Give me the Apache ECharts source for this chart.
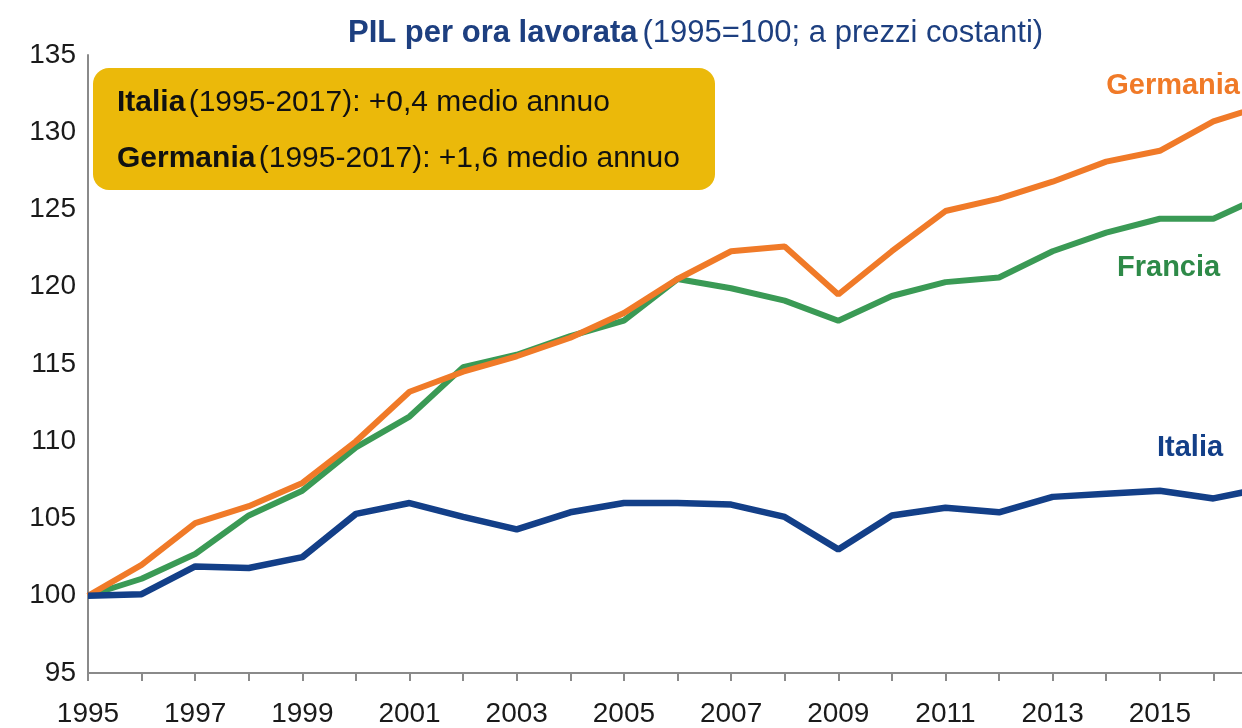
<!DOCTYPE html>
<html>
<head>
<meta charset="utf-8">
<script src="https://cdn.jsdelivr.net/npm/echarts@6/dist/echarts.min.js"></script>
<style>
  html, body { margin: 0; padding: 0; background: #fff; }
  #chart { width: 1242px; height: 728px; }
</style>
</head>
<body>
<div id="chart"></div>
<script>
// anni (l'asse arriva al 2017, il grafico originale è tagliato a destra)
var years = ['1995', '1996', '1997', '1998', '1999', '2000', '2001', '2002', '2003', '2004', '2005',
  '2006', '2007', '2008', '2009', '2010', '2011', '2012', '2013', '2014', '2015', '2016', '2017']

// PIL per ora lavorata, 1995=100
var germania = [100, 102.0, 104.7, 105.8, 107.3, 110.0, 113.2, 114.5, 115.5, 116.7, 118.3,
  120.5, 122.3, 122.6, 119.5, 122.3, 124.9, 125.7, 126.8, 128.1, 128.8, 130.7, 131.8]
var francia = [100, 101.1, 102.7, 105.2, 106.8, 109.6, 111.6, 114.8, 115.6, 116.8, 117.8,
  120.5, 119.9, 119.1, 117.8, 119.4, 120.3, 120.6, 122.3, 123.5, 124.4, 124.4, 126.0]
var italia = [100, 100.1, 101.9, 101.8, 102.5, 105.3, 106.0, 105.1, 104.3, 105.4, 106.0,
  106.0, 105.9, 105.1, 103.0, 105.2, 105.7, 105.4, 106.4, 106.6, 106.8, 106.3, 107.0]

var yTicks = { min: 95, max: 135, step: 5 }

var FONT = '"Liberation Sans Narrow", "Liberation Sans", Arial, sans-serif'
var C_GER = '#f07a28'
var C_FRA = '#3a9a55'
var C_ITA = '#133f88'

var myChart = echarts.init(document.getElementById('chart'))

var option = {
  backgroundColor: '#fff',
  animation: false,
  title: {
    left: 343,
    top: 13,
    text: '{b|PIL per ora lavorata} {n|(1995=100; a prezzi costanti)}',
    textStyle: {
      fontWeight: 'normal',
      rich: {
        b: { fontFamily: FONT, fontSize: 31, fontWeight: 'bold', color: '#1d3f80' },
        n: { fontFamily: FONT, fontSize: 31, fontWeight: 'normal', color: '#1d3f80' }
      }
    }
  },
  grid: {
    left: 88,
    top: 55,
    width: 1179,
    height: 618,
    outerBoundsMode: 'none',
    containLabel: false
  },
  xAxis: {
    type: 'category',
    data: years,
    boundaryGap: false,
    axisLine: { lineStyle: { color: '#8a8a8a', width: 2 } },
    axisTick: { show: true, interval: 0, length: 8, lineStyle: { color: '#8a8a8a', width: 2 } },
    axisLabel: {
      interval: 1,
      showMaxLabel: false,
      margin: 27,
      fontFamily: FONT,
      fontSize: 28,
      color: '#1a1a1a'
    },
    splitLine: { show: false }
  },
  yAxis: {
    type: 'value',
    min: yTicks.min,
    max: yTicks.max,
    interval: yTicks.step,
    axisLine: { show: true, lineStyle: { color: '#8a8a8a', width: 2 } },
    axisTick: { show: false },
    axisLabel: {
      margin: 12,
      fontFamily: FONT,
      fontSize: 28,
      color: '#1a1a1a'
    },
    splitLine: { show: false }
  },
  series: [
    {
      name: 'Francia',
      type: 'line',
      data: francia,
      symbol: 'none',
      lineStyle: { color: C_FRA, width: 6 },
      z: 2
    },
    {
      name: 'Germania',
      type: 'line',
      data: germania,
      symbol: 'none',
      lineStyle: { color: C_GER, width: 6 },
      z: 3
    },
    {
      name: 'Italia',
      type: 'line',
      data: italia,
      symbol: 'none',
      lineStyle: { color: C_ITA, width: 6.5 },
      z: 4
    }
  ],
  graphic: [
    {
      type: 'rect',
      left: 93,
      top: 68,
      shape: { width: 622, height: 122, r: 16 },
      style: { fill: '#ebb90a' },
      z: 10
    },
    {
      type: 'text',
      left: 117,
      top: 88,
      style: {
        text: '{b|Italia} {n|(1995-2017): +0,4 medio annuo}',
        rich: {
          b: { fontFamily: FONT, fontSize: 30, fontWeight: 'bold', fill: '#111' },
          n: { fontFamily: FONT, fontSize: 30, fontWeight: 'normal', fill: '#111' }
        }
      },
      z: 11
    },
    {
      type: 'text',
      left: 117,
      top: 144,
      style: {
        text: '{b|Germania} {n|(1995-2017): +1,6 medio annuo}',
        rich: {
          b: { fontFamily: FONT, fontSize: 30, fontWeight: 'bold', fill: '#111' },
          n: { fontFamily: FONT, fontSize: 30, fontWeight: 'normal', fill: '#111' }
        }
      },
      z: 11
    },
    {
      type: 'text',
      right: 2,
      top: 71,
      style: { text: 'Germania', fontFamily: FONT, fontSize: 29, fontWeight: 'bold', fill: C_GER },
      z: 11
    },
    {
      type: 'text',
      left: 1117,
      top: 253,
      style: { text: 'Francia', fontFamily: FONT, fontSize: 29, fontWeight: 'bold', fill: '#2e8a48' },
      z: 11
    },
    {
      type: 'text',
      left: 1157,
      top: 433,
      style: { text: 'Italia', fontFamily: FONT, fontSize: 29, fontWeight: 'bold', fill: C_ITA },
      z: 11
    }
  ]
}

myChart.setOption(option)
</script>
</body>
</html>
